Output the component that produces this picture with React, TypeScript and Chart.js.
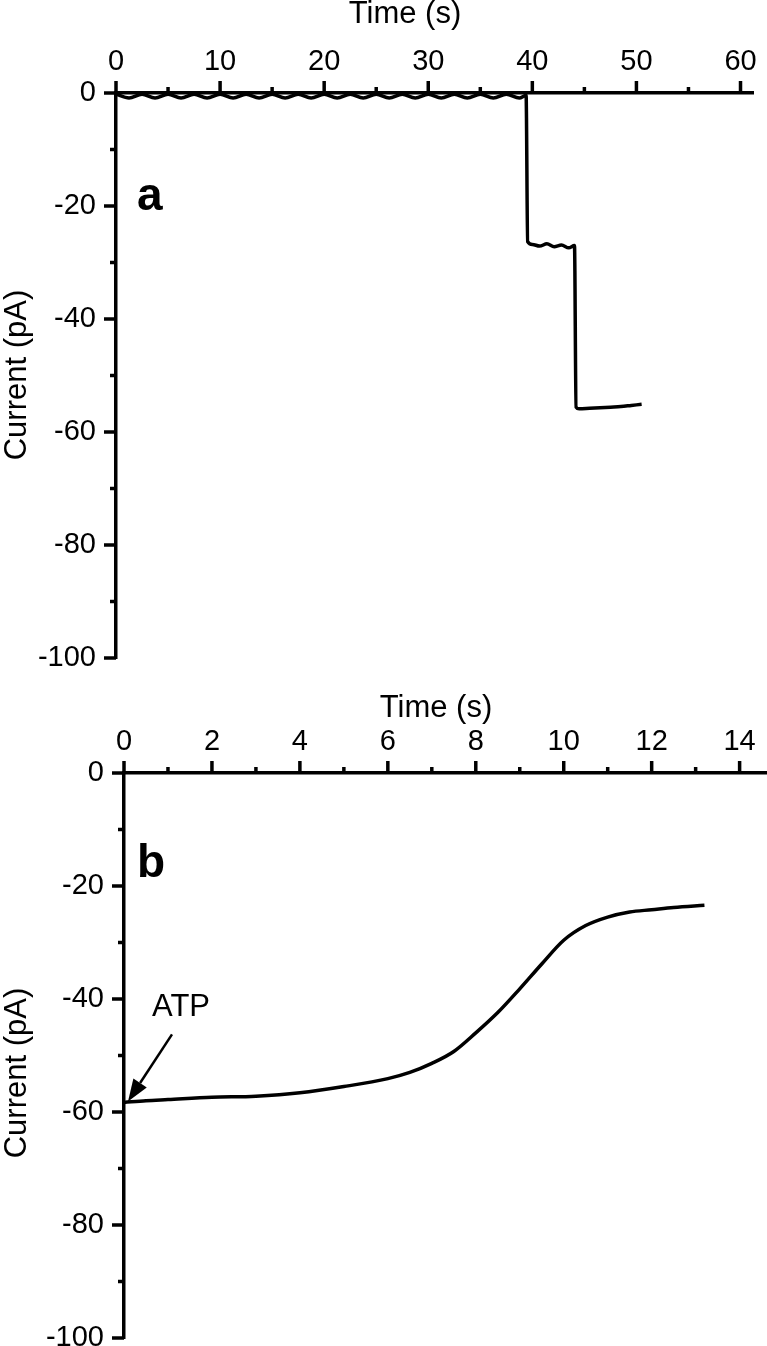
import React, { useEffect, useRef } from "react";
import { Chart, registerables } from "chart.js";
Chart.register(...registerables);

// Panel a: current trace (time in s, current in pA)
const timeA = [
  0, 1.25, 2.5, 3.75, 5, 6.25, 7.5, 8.75, 10, 11.25, 12.5, 13.75, 15, 16.25, 17.5, 18.75,
  20, 21.25, 22.5, 23.75, 25, 26.25, 27.5, 28.75, 30, 31.25, 32.5, 33.75, 35, 36.25, 37.5, 38.75,
  39.4, 39.55, 40.0, 40.7, 41.4, 42.1, 42.8, 43.5, 44.05, 44.2, 44.5, 45.5, 46.5, 47.5, 48.5, 49.5, 50.5,
];
const currentA = [
  -0.2, -0.9, -0.2, -0.9, -0.2, -0.9, -0.2, -0.9, -0.2, -0.9, -0.2, -0.9, -0.2, -0.9, -0.2, -0.9,
  -0.2, -0.9, -0.2, -0.9, -0.2, -0.9, -0.2, -0.9, -0.2, -0.9, -0.2, -0.9, -0.2, -0.9, -0.2, -0.9,
  -0.4, -26.3, -26.8, -27.1, -26.7, -27.2, -26.9, -27.4, -27.0, -55.6, -55.9, -55.8, -55.7, -55.6, -55.5, -55.3, -55.1,
];

// Panel b: current trace after ATP
const timeB = [0, 0.5, 1, 2, 3, 4, 5, 6, 6.5, 7, 7.5, 8, 8.5, 9, 9.5, 10, 10.5, 11, 11.5, 12, 12.5, 13.2];
const currentB = [
  -58.3, -58.0, -57.8, -57.4, -57.2, -56.6, -55.5, -54.1, -53.0, -51.4, -49.3, -46.0,
  -42.4, -38.2, -33.8, -29.6, -27.0, -25.5, -24.6, -24.2, -23.8, -23.4,
];

// Tick values
const xMajorA = [0, 10, 20, 30, 40, 50, 60];
const xMinorA = [5, 15, 25, 35, 45, 55];
const xMajorB = [0, 2, 4, 6, 8, 10, 12, 14];
const xMinorB = [1, 3, 5, 7, 9, 11, 13];
const yMajor = [0, -20, -40, -60, -80, -100];
const yMinor = [-10, -30, -50, -70, -90];

const FONT = '"Liberation Sans", Arial, Helvetica, sans-serif';
const W = 767;
const H = 673;

type PanelProps = {
  xs: number[];
  ys: number[];
  xMax: number;
  xStep: number;
  xMajor: number[];
  xMinor: number[];
  left: number;
  top: number;
  right: number;
  bottom: number;
  letter: string;
  letterY: number;
  timeTitleX: number;
  timeTitleY: number;
  currentTitleY: number;
  atp?: boolean;
};

function Panel(p: PanelProps) {
  const ref = useRef<HTMLCanvasElement>(null);
  useEffect(() => {
    if (!ref.current) return;
    const decor = {
      id: "decor",
      afterDraw(chart: any) {
        const ctx = chart.ctx as CanvasRenderingContext2D;
        const sx = chart.scales.x;
        const sy = chart.scales.y;
        const ca = chart.chartArea;
        ctx.save();
        ctx.strokeStyle = "#000";
        ctx.fillStyle = "#000";
        ctx.lineWidth = 3.5;
        const seg = (x1: number, y1: number, x2: number, y2: number) => {
          ctx.beginPath();
          ctx.moveTo(x1, y1);
          ctx.lineTo(x2, y2);
          ctx.stroke();
        };
        p.xMajor.forEach((v) => {
          const px = sx.getPixelForValue(v);
          seg(px, ca.top, px, ca.top - 12);
        });
        p.xMinor.forEach((v) => {
          const px = sx.getPixelForValue(v);
          seg(px, ca.top, px, ca.top - 6);
        });
        yMajor.forEach((v) => {
          const py = sy.getPixelForValue(v);
          seg(ca.left, py, ca.left - 12, py);
        });
        yMinor.forEach((v) => {
          const py = sy.getPixelForValue(v);
          seg(ca.left, py, ca.left - 6, py);
        });

        ctx.textAlign = "left";
        ctx.textBaseline = "alphabetic";
        ctx.font = `bold 46px ${FONT}`;
        ctx.fillText(p.letter, 137, p.letterY);

        ctx.font = `31px ${FONT}`;
        ctx.textAlign = "center";
        ctx.fillText("Time (s)", p.timeTitleX, p.timeTitleY);

        ctx.save();
        ctx.translate(26, p.currentTitleY);
        ctx.rotate(-Math.PI / 2);
        ctx.fillText("Current (pA)", 0, 0);
        ctx.restore();

        if (p.atp) {
          const tipX = sx.getPixelForValue(p.xs[0]) + 4;
          const tipY = sy.getPixelForValue(p.ys[0]) - 1;
          const startX = tipX + 44;
          const startY = tipY - 67;
          const ang = Math.atan2(tipY - startY, tipX - startX);
          const headLen = 22;
          const headW = 8;
          const bx = tipX - headLen * Math.cos(ang);
          const by = tipY - headLen * Math.sin(ang);
          ctx.lineWidth = 2.5;
          seg(startX, startY, bx, by);
          ctx.beginPath();
          ctx.moveTo(tipX, tipY);
          ctx.lineTo(bx + headW * Math.sin(ang), by - headW * Math.cos(ang));
          ctx.lineTo(bx - headW * Math.sin(ang), by + headW * Math.cos(ang));
          ctx.closePath();
          ctx.fill();
          ctx.font = `31px ${FONT}`;
          ctx.textAlign = "left";
          ctx.fillText("ATP", 152, tipY - 85);
        }
        ctx.restore();
      },
    };

    const chart = new Chart(ref.current, {
      type: "line",
      data: {
        datasets: [
          {
            data: p.xs.map((x, i) => ({ x, y: p.ys[i] })),
            borderColor: "#000",
            borderWidth: 3.5,
            pointRadius: 0,
            cubicInterpolationMode: "monotone",
            fill: false,
          },
        ],
      },
      options: {
        animation: false,
        responsive: false,
        events: [],
        layout: {
          padding: { left: 0, top: 0, right: W - p.right, bottom: H - p.bottom },
        },
        plugins: { legend: { display: false }, tooltip: { enabled: false } },
        scales: {
          x: {
            type: "linear",
            position: "top",
            min: 0,
            max: p.xMax,
            grid: { display: false, drawTicks: false, tickLength: 0 },
            border: { display: true, color: "#000", width: 3.5 },
            ticks: {
              stepSize: p.xStep,
              includeBounds: false,
              maxRotation: 0,
              autoSkip: false,
              padding: 14,
              color: "#000",
              font: { family: FONT, size: 29 },
            },
            afterFit: (s: any) => {
              s.height = p.top;
              s.paddingLeft = 0;
              s.paddingRight = 0;
              s.paddingTop = 0;
              s.paddingBottom = 0;
            },
          },
          y: {
            type: "linear",
            min: -100,
            max: 0,
            grid: { display: false, drawTicks: false, tickLength: 0 },
            border: { display: true, color: "#000", width: 3.5 },
            ticks: {
              stepSize: 20,
              includeBounds: false,
              autoSkip: false,
              padding: 20,
              color: "#000",
              font: { family: FONT, size: 29 },
            },
            afterFit: (s: any) => {
              s.width = p.left;
              s.paddingLeft = 0;
              s.paddingRight = 0;
              s.paddingTop = 0;
              s.paddingBottom = 0;
            },
          },
        },
      } as any,
      plugins: [decor],
    });
    return () => chart.destroy();
  }, []);
  return <canvas ref={ref} width={W} height={H} style={{ display: "block", width: W, height: H }} />;
}

export default function App() {
  return (
    <div style={{ position: "absolute", left: 0, top: 0, width: W, height: 2 * H, background: "#fff" }}>
      <Panel
        xs={timeA}
        ys={currentA}
        xMax={61.2}
        xStep={10}
        xMajor={xMajorA}
        xMinor={xMinorA}
        left={116}
        top={93}
        right={753}
        bottom={658}
        letter="a"
        letterY={210}
        timeTitleX={405}
        timeTitleY={23}
        currentTitleY={375}
      />
      <Panel
        xs={timeB}
        ys={currentB}
        xMax={14.6}
        xStep={2}
        xMajor={xMajorB}
        xMinor={xMinorB}
        left={124}
        top={100}
        right={766}
        bottom={665}
        letter="b"
        letterY={204}
        timeTitleX={436}
        timeTitleY={44}
        currentTitleY={400}
        atp
      />
    </div>
  );
}
